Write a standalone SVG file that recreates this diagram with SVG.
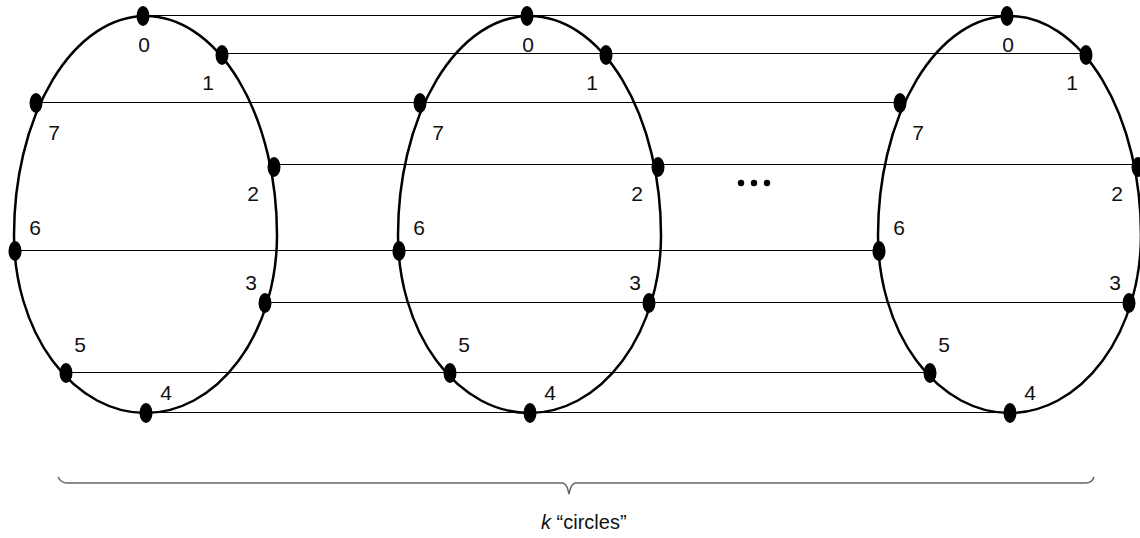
<svg xmlns="http://www.w3.org/2000/svg" width="1140" height="538" viewBox="0 0 1140 538">
<defs>
<style>
.ring{fill:none;stroke:#000;stroke-width:2.5}
.dot{fill:#000}
.lbl{font-family:"Liberation Sans",Arial,sans-serif;font-size:21px;fill:#111;text-anchor:middle}
.link{stroke:#000;stroke-width:1;fill:none}
.brace{fill:none;stroke:#666;stroke-width:1.5}
</style>
<g id="circleshape">
<path class="ring" d="M14,235 A131.5,219 0 0 1 277,235 A131.5,178 0 0 1 14,235 Z"/>
<ellipse class="dot" cx="143" cy="16" rx="6.5" ry="10"/>
<ellipse class="dot" cx="222" cy="55" rx="6.5" ry="10"/>
<ellipse class="dot" cx="36" cy="103" rx="6.5" ry="10"/>
<ellipse class="dot" cx="274" cy="167" rx="6.5" ry="10"/>
<ellipse class="dot" cx="15" cy="251" rx="6.5" ry="10"/>
<ellipse class="dot" cx="265" cy="303" rx="6.5" ry="10"/>
<ellipse class="dot" cx="66" cy="373" rx="6.5" ry="10"/>
<ellipse class="dot" cx="146" cy="413" rx="6.5" ry="10"/>
<text class="lbl" x="144" y="52">0</text>
<text class="lbl" x="208" y="90">1</text>
<text class="lbl" x="54" y="140">7</text>
<text class="lbl" x="253" y="201">2</text>
<text class="lbl" x="35" y="235">6</text>
<text class="lbl" x="251" y="290">3</text>
<text class="lbl" x="80" y="352">5</text>
<text class="lbl" x="166" y="400">4</text>
</g>
</defs>
<rect width="1140" height="538" fill="#fff"/>
<g id="connectors">
<line class="link" x1="143" y1="15.5" x2="1007" y2="15.5"/>
<line class="link" x1="222" y1="53.5" x2="1086" y2="53.5"/>
<line class="link" x1="36" y1="102.5" x2="900" y2="102.5"/>
<line class="link" x1="274" y1="164.5" x2="1138" y2="164.5"/>
<line class="link" x1="15" y1="250.5" x2="879" y2="250.5"/>
<line class="link" x1="265" y1="302.5" x2="1129" y2="302.5"/>
<line class="link" x1="66" y1="372.5" x2="930" y2="372.5"/>
<line class="link" x1="146" y1="412.5" x2="1010" y2="412.5"/>
</g>
<g id="circle1"><use href="#circleshape"/></g>
<g id="circle2"><use href="#circleshape" x="384"/></g>
<g id="circle3"><use href="#circleshape" x="864"/></g>
<g id="ellipsis">
<circle class="dot" cx="741" cy="183" r="3.2"/>
<circle class="dot" cx="754" cy="183" r="3.2"/>
<circle class="dot" cx="767" cy="183" r="3.2"/>
</g>
<g id="brace">
<path class="brace" d="M58,477 Q61,483 67,483 L563,483 Q567,484 569,494 Q571,484 575,483 L1086,483 Q1092,483 1094,477"/>
<text x="541" y="529" font-family="'Liberation Sans',Arial,sans-serif" font-size="20" fill="#111"><tspan font-style="italic">k</tspan> “circles”</text>
</g>
</svg>
